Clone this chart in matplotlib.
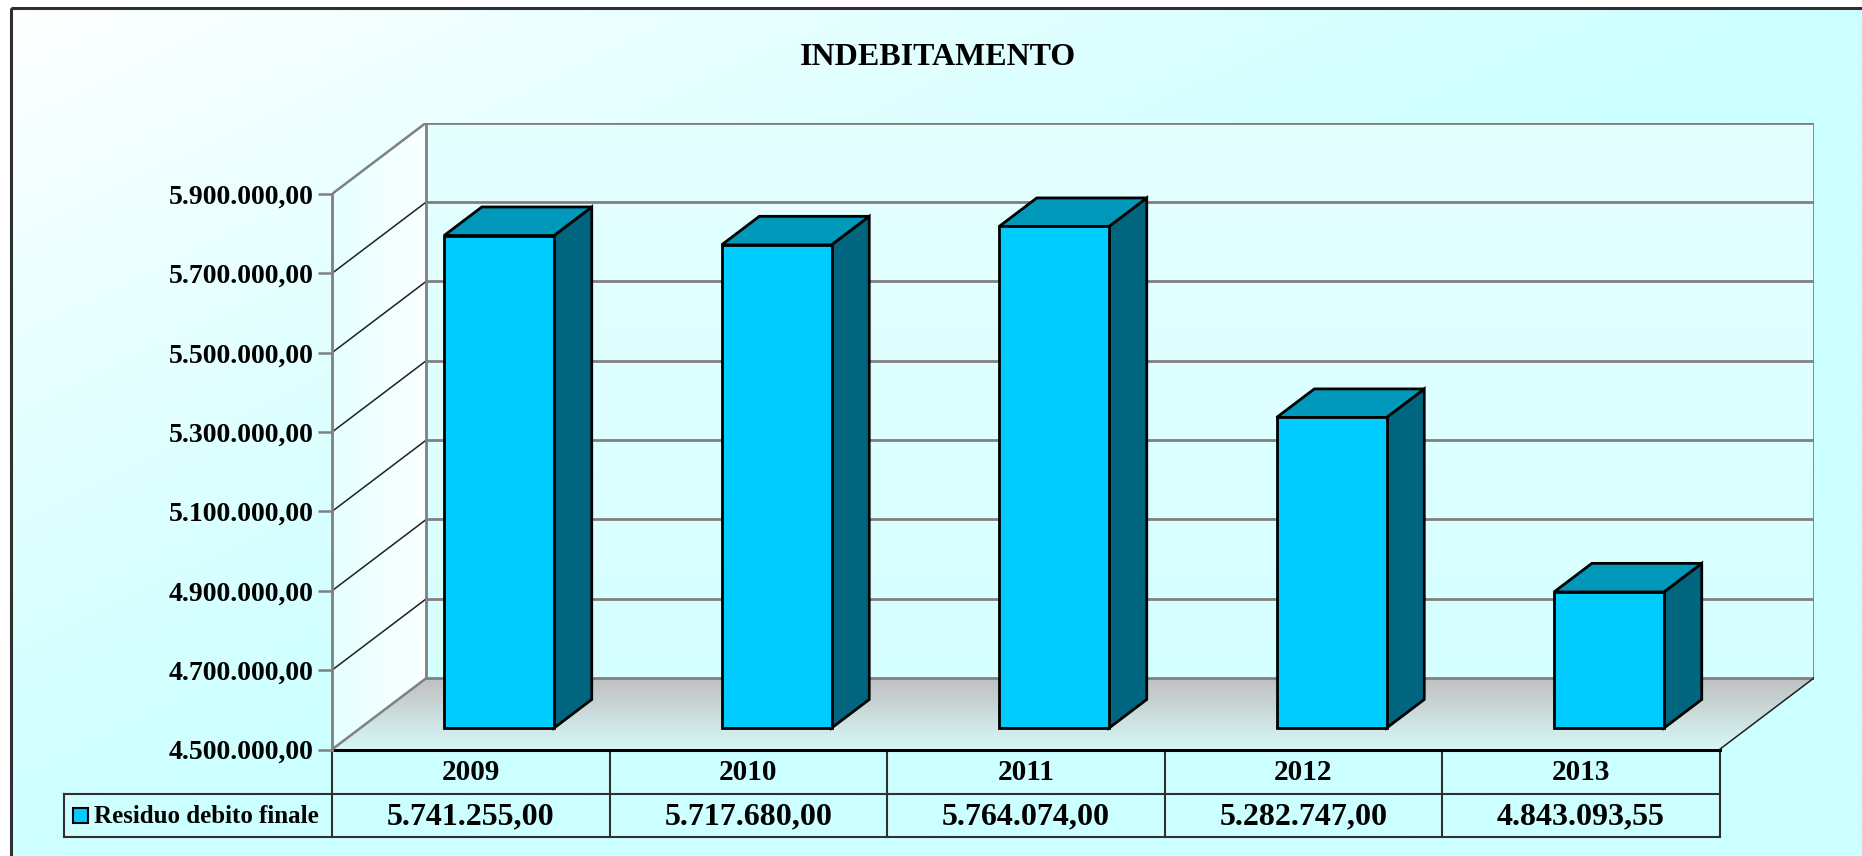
import numpy as np
import matplotlib.pyplot as plt
from matplotlib.patches import Polygon, Rectangle
from matplotlib import transforms

years = ['2009', '2010', '2011', '2012', '2013']
residuo = [5741255.00, 5717680.00, 5764074.00, 5282747.00, 4843093.55]
yticks = [4500000, 4700000, 4900000, 5100000, 5300000, 5500000, 5700000, 5900000]
series_name = 'Residuo debito finale'
title = 'INDEBITAMENTO'


def fmt_it(v):
    # 5741255.0 -> 5.741.255,00
    return f"{v:,.2f}".replace(',', 'X').replace('.', ',').replace('X', '.')


SERIF = 'Liberation Serif'
W, H = 1862, 856

# layout (pixels)
X0, Y0 = 332, 749.5          # front-left corner of the floor
CAT_PX = 277.5               # width of one category
VAL_PX = 79.36 / 200000      # pixels per unit of value
DX, DY = 0.34, 180000        # full depth of the 3d box in data units
VMIN, VMAX = 4500000, 5900000
BAR_W = 0.396
BAR_FRONT, BAR_DEPTH = 0.3, 0.4

FRONT = '#00CCFF'
SIDE = '#006680'
TOP = '#0099BB'
GRID = '#808080'

fig = plt.figure(figsize=(W / 100, H / 100), dpi=100)
fig.patch.set_facecolor('white')

# background of the chart area
bg = fig.add_axes([0, 0, 1, 1], zorder=0)
bg.set_xlim(0, W)
bg.set_ylim(H, 0)
bg.axis('off')
gx, gy = np.meshgrid(np.linspace(0, 1, 300), np.linspace(0, 1, 150))
t = np.clip(gx * 1.0 + gy * 0.95, 0, 1) ** 0.9
c0 = np.array([1.0, 1.0, 1.0])
c1 = np.array([0.80, 1.0, 1.0])
img = c0[None, None, :] * (1 - t[..., None]) + c1[None, None, :] * t[..., None]
bg.imshow(img, extent=(10.5, W, H, 8), aspect='auto', interpolation='bilinear')
bg.add_patch(Rectangle((10.5, 8), W + 20, H + 20, fill=False, ec='#303030', lw=2.2))

bg.text(938, 57, title, ha='center', va='center', fontsize=23,
        fontweight='bold', family=SERIF)

# plot area
ax_w = (5 + DX) * CAT_PX
ax_h = (VMAX - VMIN + DY) * VAL_PX
ax = fig.add_axes([X0 / W, (H - Y0) / H, ax_w / W, ax_h / H], zorder=1)
ax.patch.set_alpha(0)
ax.set_xlim(-0.5, 4.5 + DX)
ax.set_ylim(VMIN, VMAX + DY)
for s in ['top', 'right', 'bottom']:
    ax.spines[s].set_visible(False)
ax.spines['left'].set_bounds(VMIN, VMAX)
ax.spines['left'].set_color(GRID)
ax.spines['left'].set_linewidth(2)
ax.set_xticks([])
ax.set_yticks(yticks)
ax.set_yticklabels([fmt_it(v) for v in yticks], family=SERIF, fontweight='bold')
ax.tick_params(axis='y', length=10, width=1.8, color=GRID, pad=3, labelsize=20)

# back wall
xl, xr = -0.5, 4.5
bw = np.linspace(0, 1, 100)[:, None] * np.ones((1, 2))
back_img = np.zeros((100, 2, 3))
back_img[..., 0] = 0.90 - 0.06 * bw
back_img[..., 1] = 1.0
back_img[..., 2] = 1.0
ax.imshow(back_img, extent=(xl + DX, xr + DX, VMIN + DY, VMAX + DY),
          aspect='auto', origin='upper', zorder=0.5)

# left wall
lw_poly = Polygon([(xl, VMIN), (xl + DX, VMIN + DY), (xl + DX, VMAX + DY), (xl, VMAX)],
                  closed=True, fc='none', ec='none')
ax.add_patch(lw_poly)
lw_img = np.zeros((2, 100, 3))
lx = np.linspace(0, 1, 100)[None, :]
lw_img[..., 0] = 0.90 + 0.08 * lx
lw_img[..., 1] = 1.0
lw_img[..., 2] = 1.0
im = ax.imshow(lw_img, extent=(xl, xl + DX, VMIN, VMAX + DY), aspect='auto', zorder=0.5)
im.set_clip_path(lw_poly)

# floor
fl_poly = Polygon([(xl, VMIN), (xr, VMIN), (xr + DX, VMIN + DY), (xl + DX, VMIN + DY)],
                  closed=True, fc='none', ec='none')
ax.add_patch(fl_poly)
fy = np.linspace(0, 1, 100)[:, None] * np.ones((1, 2))
fl_img = np.zeros((100, 2, 3))
fl_img[..., 0] = 0.75 + 0.09 * fy
fl_img[..., 1] = 0.75 + 0.22 * fy
fl_img[..., 2] = 0.75 + 0.22 * fy
im = ax.imshow(fl_img, extent=(xl, xr + DX, VMIN, VMIN + DY), aspect='auto',
               origin='upper', zorder=0.6)
im.set_clip_path(fl_poly)

# grid lines on the walls
for v in yticks:
    edge = v in (VMIN, VMAX)
    ax.plot([xl + DX, xr + DX], [v + DY, v + DY], color=GRID, lw=2, zorder=1,
            solid_capstyle='butt')
    ax.plot([xl, xl + DX], [v, v + DY], color=GRID if edge else '#202020',
            lw=1.8 if edge else 1.1, zorder=1)
ax.plot([xl + DX, xl + DX], [VMIN + DY, VMAX + DY], color=GRID, lw=2, zorder=1)
ax.plot([xr + DX, xr + DX], [VMIN + DY, VMAX + DY], color=GRID, lw=2, zorder=1)
ax.plot([xr, xr + DX], [VMIN, VMIN + DY], color='#202020', lw=1.1, zorder=1)

# bars
for i, v in enumerate(residuo):
    x1 = i - BAR_W / 2 + BAR_FRONT * DX
    x2 = x1 + BAR_W
    yb = VMIN + BAR_FRONT * DY
    yt = v + BAR_FRONT * DY
    ddx, ddy = BAR_DEPTH * DX, BAR_DEPTH * DY
    kw = dict(closed=True, ec='black', lw=2, joinstyle='miter', zorder=3)
    ax.add_patch(Polygon([(x2, yb), (x2 + ddx, yb + ddy), (x2 + ddx, yt + ddy), (x2, yt)],
                         fc=SIDE, **kw))
    ax.add_patch(Polygon([(x1, yt), (x2, yt), (x2 + ddx, yt + ddy), (x1 + ddx, yt + ddy)],
                         fc=TOP, **kw))
    ax.add_patch(Polygon([(x1, yb), (x2, yb), (x2, yt), (x1, yt)], fc=FRONT, **kw))

# data table (x from the category axis, y in pixels)
tr = transforms.blended_transform_factory(ax.transData, bg.transData)
r0, r1, r2 = Y0, 794, 837
xlab = -0.5 - (X0 - 64) / CAT_PX
tkw = dict(transform=tr, color='#303030', lw=1.5, clip_on=False, zorder=4)
bg.plot([xl, xr], [r0, r0], color='black', lw=2.2, transform=tr, clip_on=False, zorder=5)
bg.plot([xlab, xr], [r1, r1], **tkw)
bg.plot([xlab, xr], [r2, r2], **tkw)
bg.plot([xlab, xlab], [r1, r2], **tkw)
for k in range(6):
    bg.plot([k - 0.5, k - 0.5], [r0, r2], **tkw)
for i, (yr, v) in enumerate(zip(years, residuo)):
    bg.text(i, (r0 + r1) / 2 + 1, yr, transform=tr, ha='center', va='center',
            fontsize=21, fontweight='bold', family=SERIF)
    bg.text(i, (r1 + r2) / 2 + 1, fmt_it(v), transform=tr, ha='center', va='center',
            fontsize=23, fontweight='bold', family=SERIF)

bg.add_patch(Rectangle((72.5, 808), 15, 15, fc=FRONT, ec='black', lw=1.5, zorder=5))
bg.text(94, (r1 + r2) / 2 + 1, series_name, ha='left', va='center', fontsize=18,
        fontweight='bold', family=SERIF)

fig.savefig('out.png', dpi=100)
